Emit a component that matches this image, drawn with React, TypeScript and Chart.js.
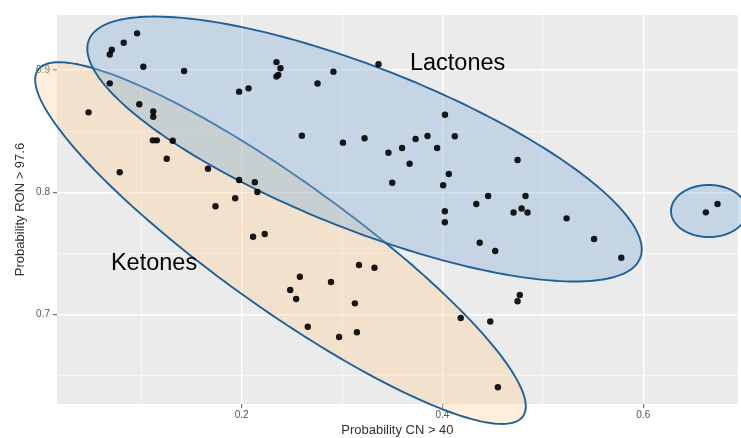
import React, { useEffect, useRef } from "react";
import { Chart, registerables } from "chart.js";

Chart.register(...registerables);

// ---- Data ----
const lactonesX = [0.0959, 0.0826, 0.0707, 0.0687, 0.1021, 0.1427, 0.1975, 0.2069, 0.2347, 0.2387, 0.2365, 0.2347, 0.2756, 0.2914, 0.3363, 0.26, 0.3009, 0.3224, 0.3462, 0.3598, 0.3732, 0.3851, 0.3947, 0.4025, 0.4123, 0.3673, 0.35, 0.4063, 0.4007, 0.4748, 0.4337, 0.4455, 0.4827, 0.4024, 0.4024, 0.4708, 0.4788, 0.4847, 0.5236, 0.4371, 0.4525, 0.551, 0.5781, 0.477, 0.4748, 0.4476];
const lactonesY = [0.93, 0.9223, 0.9166, 0.9127, 0.9027, 0.8992, 0.8823, 0.885, 0.9065, 0.9014, 0.8959, 0.8947, 0.889, 0.8986, 0.9047, 0.8463, 0.8406, 0.8442, 0.8323, 0.8362, 0.8436, 0.846, 0.8362, 0.8634, 0.8459, 0.8234, 0.8078, 0.815, 0.8058, 0.8264, 0.7904, 0.797, 0.797, 0.7845, 0.7755, 0.7835, 0.7868, 0.7835, 0.7787, 0.7588, 0.752, 0.7618, 0.7465, 0.716, 0.7109, 0.6944];

const ketonesX = [0.0687, 0.0476, 0.0981, 0.112, 0.112, 0.1116, 0.1156, 0.1314, 0.1254, 0.0786, 0.1665, 0.1975, 0.2131, 0.2157, 0.1936, 0.174, 0.2114, 0.223, 0.258, 0.2484, 0.2543, 0.289, 0.3169, 0.3323, 0.3128, 0.2659, 0.2971, 0.3148, 0.4182, 0.4552];
const ketonesY = [0.8891, 0.8654, 0.872, 0.8662, 0.8618, 0.8425, 0.8425, 0.8422, 0.8275, 0.8164, 0.8193, 0.8101, 0.8082, 0.8002, 0.7951, 0.7886, 0.7637, 0.7659, 0.731, 0.7201, 0.7128, 0.7267, 0.7406, 0.7383, 0.7092, 0.6901, 0.6817, 0.6856, 0.6972, 0.6406];

const otherX = [0.6623, 0.6739];
const otherY = [0.7836, 0.7904];

const xTicks = [0.1, 0.2, 0.3, 0.4, 0.5, 0.6];
const xMajor = [0.2, 0.4, 0.6];
const yTicks = [0.65, 0.7, 0.75, 0.8, 0.85, 0.9];
const yMajor = [0.7, 0.8, 0.9];

// Ellipses: centre + two conjugate semi-axis vectors (data units)
const ellipseCX = [0.2387, 0.3224, 0.6653];
const ellipseCY = [0.7585, 0.8354, 0.7847];
const ellipseUX = [0.2415, 0.2745, 0.0377];
const ellipseUY = [-0.1416, -0.0891, 0];
const ellipseVX = [-0.0368, -0.0293, 0];
const ellipseVY = [-0.0427, -0.0616, -0.0213];
const ellipseFill = ["rgba(252,206,150,0.35)", "rgba(140,180,215,0.4)", "rgba(140,180,215,0.4)"];
const ellipseStroke = "#1e6098";

const labelText = ["Lactones", "Ketones"];
const labelX = [0.4151, 0.1128];
const labelY = [0.9, 0.7365];

const FONT = "'Liberation Sans', Arial, Helvetica, sans-serif";

const near = (arr: number[], v: number) => arr.some((m) => Math.abs(m - v) < 1e-6);

const toPts = (xs: number[], ys: number[]) => xs.map((x, i) => ({ x, y: ys[i] }));

const panelPlugin = {
  id: "panelBg",
  beforeDraw(chart: any) {
    const { ctx, chartArea } = chart;
    ctx.save();
    ctx.fillStyle = "#EBEBEB";
    ctx.fillRect(chartArea.left, chartArea.top, chartArea.right - chartArea.left, chartArea.bottom - chartArea.top);
    ctx.restore();
  },
};

const ellipsePlugin = {
  id: "ellipses",
  beforeDatasetsDraw(chart: any) {
    const { ctx } = chart;
    const xs = chart.scales.x;
    const ys = chart.scales.y;
    ctx.save();
    for (let e = 0; e < ellipseCX.length; e++) {
      ctx.beginPath();
      const N = 240;
      for (let i = 0; i <= N; i++) {
        const t = (2 * Math.PI * i) / N;
        const dx = ellipseCX[e] + ellipseUX[e] * Math.cos(t) + ellipseVX[e] * Math.sin(t);
        const dy = ellipseCY[e] + ellipseUY[e] * Math.cos(t) + ellipseVY[e] * Math.sin(t);
        const px = xs.getPixelForValue(dx);
        const py = ys.getPixelForValue(dy);
        if (i === 0) ctx.moveTo(px, py);
        else ctx.lineTo(px, py);
      }
      ctx.closePath();
      ctx.fillStyle = ellipseFill[e];
      ctx.fill();
      ctx.lineWidth = 1.9;
      ctx.strokeStyle = ellipseStroke;
      ctx.stroke();
    }
    ctx.restore();
  },
  afterDraw(chart: any) {
    const { ctx } = chart;
    const xs = chart.scales.x;
    const ys = chart.scales.y;
    ctx.save();
    ctx.fillStyle = "#000";
    ctx.font = `23.5px ${FONT}`;
    ctx.textAlign = "center";
    ctx.textBaseline = "alphabetic";
    for (let i = 0; i < labelText.length; i++) {
      ctx.fillText(labelText[i], xs.getPixelForValue(labelX[i]), ys.getPixelForValue(labelY[i]));
    }
    ctx.restore();
  },
};

export default function App() {
  const ref = useRef<HTMLCanvasElement>(null);
  useEffect(() => {
    document.body.style.margin = "0";
    const canvas = ref.current!;
    const pointStyle = { pointRadius: 3.2, pointHoverRadius: 3.2, pointBackgroundColor: "rgba(0,0,0,0.9)", pointBorderWidth: 0, showLine: false };
    const chart = new Chart(canvas, {
      type: "scatter",
      data: {
        datasets: [
          { label: "Lactones", data: toPts(lactonesX, lactonesY), ...pointStyle },
          { label: "Ketones", data: toPts(ketonesX, ketonesY), ...pointStyle },
          { label: "Other", data: toPts(otherX, otherY), ...pointStyle },
        ],
      },
      options: {
        animation: false,
        responsive: false,
        layout: { padding: { top: 15, right: 0, left: 0, bottom: 0 } },
        plugins: { legend: { display: false }, tooltip: { enabled: false } },
        scales: {
          x: {
            type: "linear",
            min: 0.01615,
            max: 0.6941,
            afterBuildTicks: (s: any) => {
              s.ticks = xTicks.map((v) => ({ value: v }));
            },
            afterFit: (s: any) => {
              s.height = 34;
            },
            ticks: {
              autoSkip: false,
              maxRotation: 0,
              padding: 1,
              color: "#555",
              font: { size: 10, family: FONT },
              callback: (v: any) => (near(xMajor, Number(v)) ? Number(v).toFixed(1) : ""),
            },
            grid: {
              color: (c: any) => (c.tick && near(xMajor, c.tick.value) ? "#ffffff" : "rgba(255,255,255,0.8)"),
              lineWidth: (c: any) => (c.tick && near(xMajor, c.tick.value) ? 1.4 : 0.7),
              tickColor: (c: any) => (c.tick && near(xMajor, c.tick.value) ? "#555" : "rgba(0,0,0,0)"),
              tickWidth: 1,
              tickLength: 4,
            },
            border: { display: false },
            title: {
              display: true,
              text: "Probability CN > 40",
              color: "#333",
              font: { size: 13, family: FONT },
              padding: { top: 0, bottom: 0 },
            },
          },
          y: {
            type: "linear",
            min: 0.6269,
            max: 0.945,
            afterBuildTicks: (s: any) => {
              s.ticks = yTicks.map((v) => ({ value: v }));
            },
            afterFit: (s: any) => {
              s.width = 57;
            },
            ticks: {
              autoSkip: false,
              padding: 3,
              color: "#555",
              font: { size: 10, family: FONT },
              callback: (v: any) => (near(yMajor, Number(v)) ? Number(v).toFixed(1) : ""),
            },
            grid: {
              color: (c: any) => (c.tick && near(yMajor, c.tick.value) ? "#ffffff" : "rgba(255,255,255,0.8)"),
              lineWidth: (c: any) => (c.tick && near(yMajor, c.tick.value) ? 1.4 : 0.7),
              tickColor: (c: any) => (c.tick && near(yMajor, c.tick.value) ? "#555" : "rgba(0,0,0,0)"),
              tickWidth: 1,
              tickLength: 4,
            },
            border: { display: false },
            title: {
              display: true,
              text: "Probability RON > 97.6",
              color: "#333",
              font: { size: 13, family: FONT },
              padding: { top: 13, bottom: 0 },
            },
          },
        },
      },
      plugins: [panelPlugin, ellipsePlugin],
    } as any);
    return () => chart.destroy();
  }, []);
  return (
    <div style={{ width: 741, height: 438 }}>
      <canvas ref={ref} width={741} height={438} style={{ display: "block" }} />
    </div>
  );
}
